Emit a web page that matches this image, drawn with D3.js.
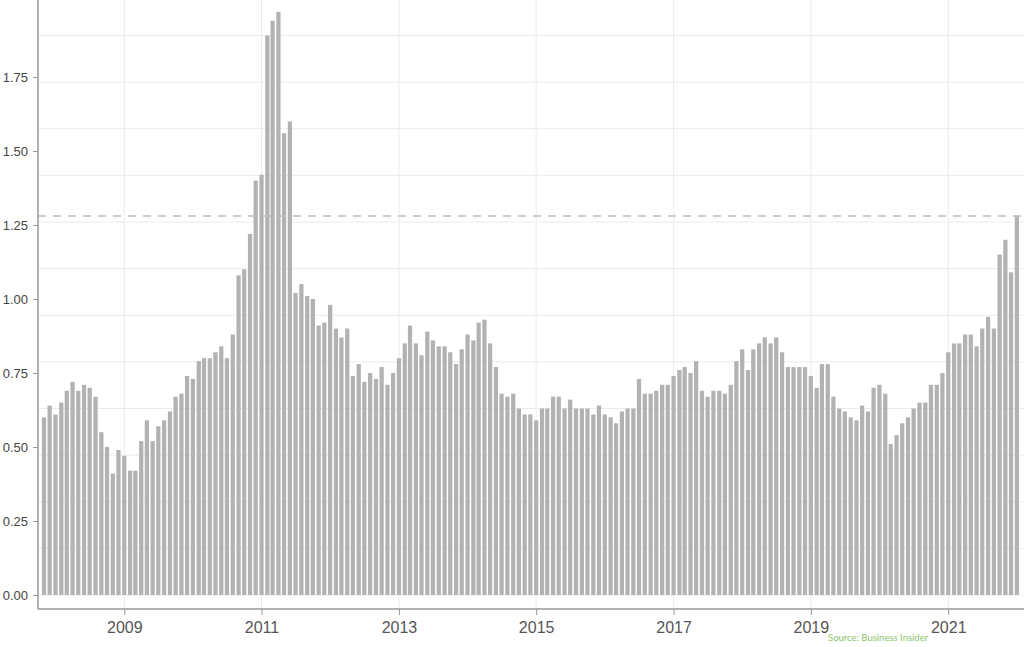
<!DOCTYPE html>
<html>
<head>
<meta charset="utf-8">
<script src="https://cdn.jsdelivr.net/npm/d3@7"></script>
<style>
  body { margin: 0; background: #fff; }
  svg { display: block; font-family: Lato, "Open Sans", sans-serif; }
</style>
</head>
<body>
<svg id="chart" width="1024" height="647"></svg>
<script>
// monthly values, first bar is Nov 2007, last is Jan 2022
const startMonth = new Date(2007, 10, 1);
const values = [
  0.60, 0.64, 0.61, 0.65, 0.69, 0.72, 0.69, 0.71, 0.70, 0.67, 0.55, 0.50,
  0.41, 0.49, 0.47, 0.42, 0.42, 0.52, 0.59, 0.52, 0.57, 0.59, 0.62, 0.67,
  0.68, 0.74, 0.73, 0.79, 0.80, 0.80, 0.82, 0.84, 0.80, 0.88, 1.08, 1.10,
  1.22, 1.40, 1.42, 1.89, 1.94, 1.97, 1.56, 1.60, 1.02, 1.05, 1.01, 1.00,
  0.91, 0.92, 0.98, 0.90, 0.87, 0.90, 0.74, 0.78, 0.72, 0.75, 0.73, 0.77,
  0.71, 0.75, 0.80, 0.85, 0.91, 0.85, 0.81, 0.89, 0.86, 0.84, 0.84, 0.82,
  0.78, 0.83, 0.88, 0.86, 0.92, 0.93, 0.85, 0.77, 0.68, 0.67, 0.68, 0.63,
  0.61, 0.61, 0.59, 0.63, 0.63, 0.67, 0.67, 0.63, 0.66, 0.63, 0.63, 0.63,
  0.61, 0.64, 0.61, 0.60, 0.58, 0.62, 0.63, 0.63, 0.73, 0.68, 0.68, 0.69,
  0.71, 0.71, 0.74, 0.76, 0.77, 0.75, 0.79, 0.69, 0.67, 0.69, 0.69, 0.68,
  0.71, 0.79, 0.83, 0.76, 0.83, 0.85, 0.87, 0.85, 0.87, 0.82, 0.77, 0.77,
  0.77, 0.77, 0.74, 0.70, 0.78, 0.78, 0.67, 0.63, 0.62, 0.60, 0.59, 0.64,
  0.62, 0.70, 0.71, 0.68, 0.51, 0.54, 0.58, 0.60, 0.63, 0.65, 0.65, 0.71,
  0.71, 0.75, 0.82, 0.85, 0.85, 0.88, 0.88, 0.84, 0.90, 0.94, 0.90, 1.15,
  1.20, 1.09, 1.28
];
const yTicks = [0, 0.25, 0.5, 0.75, 1.0, 1.25, 1.5, 1.75];
const xTickYears = [2009, 2011, 2013, 2015, 2017, 2019, 2021];
const refValue = 1.28;
const sourceText = "Source: Business Insider";

const months = values.map((v, i) => d3.timeMonth.offset(startMonth, i));
const data = values.map((v, i) => ({ date: months[i], value: v }));

const svg = d3.select('#chart');
const left = 38, right = 1024, zeroY = 595, axisY = 609;

let x = d3.scaleTime()
  .domain([new Date(2007, 8, 30), new Date(2022, 1, 8)])
  .range([left, right]);

let y = d3.scaleLinear()
  .domain([0, 2.01])
  .range([zeroY, 0]);

const step = x(months[1]) - x(months[0]);
const barW = step * 0.75;

// grid
const gridStep = 0.1575;
svg.append('g')
  .selectAll('line')
  .data(d3.range(0, 13).map(k => k * gridStep))
  .enter().append('line')
  .attr('x1', left).attr('x2', right)
  .attr('y1', d => y(d)).attr('y2', d => y(d))
  .attr('stroke', '#ebebeb')
  .attr('stroke-width', 1);

svg.append('g')
  .selectAll('line')
  .data(xTickYears)
  .enter().append('line')
  .attr('x1', d => x(new Date(d, 0, 1))).attr('x2', d => x(new Date(d, 0, 1)))
  .attr('y1', 0).attr('y2', axisY)
  .attr('stroke', '#ebebeb')
  .attr('stroke-width', 1);

// bars
svg.append('g')
  .selectAll('rect')
  .data(data)
  .enter().append('rect')
  .attr('x', d => x(d.date) - barW / 2)
  .attr('width', barW)
  .attr('y', d => y(d.value))
  .attr('height', d => y(0) - y(d.value))
  .attr('fill', '#b2b2b2');

// reference line
svg.append('line')
  .attr('x1', left).attr('x2', right)
  .attr('y1', y(refValue)).attr('y2', y(refValue))
  .attr('stroke', '#bdbdbd')
  .attr('stroke-width', 1.5)
  .attr('stroke-dasharray', '8,7');

// axes
let yAxis = svg.append('g')
  .attr('transform', 'translate(' + left + ',0)')
  .call(d3.axisLeft(y).tickValues(yTicks).tickFormat(d3.format('.2f')).tickSize(5).tickPadding(5));
yAxis.select('.domain').remove();
yAxis.selectAll('line').attr('stroke', '#999');
yAxis.selectAll('text').attr('fill', '#444').style('font-size', '13px');

let xAxis = svg.append('g')
  .attr('transform', 'translate(0,' + axisY + ')')
  .call(d3.axisBottom(x).tickValues(xTickYears.map(d => new Date(d, 0, 1)))
    .tickFormat(d3.timeFormat('%Y')).tickSize(6).tickPadding(7));
xAxis.select('.domain').remove();
xAxis.selectAll('line').attr('stroke', '#999');
xAxis.selectAll('text').attr('fill', '#555').style('font-size', '16px');

svg.append('line')
  .attr('x1', left).attr('x2', left)
  .attr('y1', 0).attr('y2', axisY)
  .attr('stroke', '#999').attr('stroke-width', 1.5);
svg.append('line')
  .attr('x1', left).attr('x2', right)
  .attr('y1', axisY).attr('y2', axisY)
  .attr('stroke', '#999').attr('stroke-width', 1.5);

svg.append('text')
  .attr('x', 828).attr('y', 641)
  .attr('fill', '#8cc56a')
  .style('font-size', '9.5px')
  .text(sourceText);
</script>
</body>
</html>
